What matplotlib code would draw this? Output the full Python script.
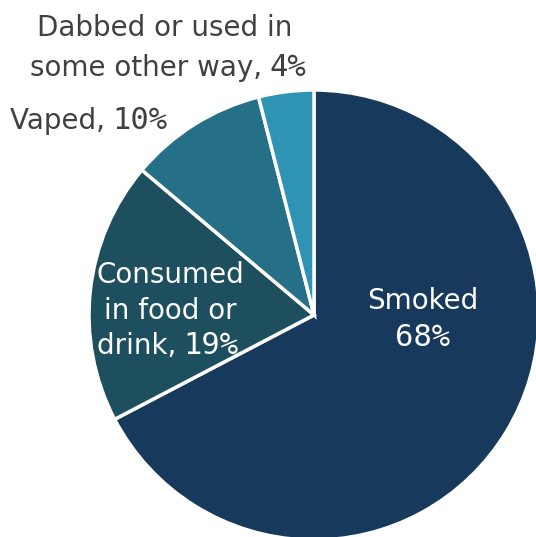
import matplotlib
matplotlib.use("Agg")
import matplotlib.pyplot as plt

categories = ["Smoked", "Consumed in food or drink", "Vaped", "Dabbed or used in some other way"]
values = [68, 19, 10, 4]
colors = ["#173a5c", "#1d4f5e", "#257087", "#2f94b4"]

W, H = 536, 537
fig = plt.figure(figsize=(W / 100, H / 100), dpi=100)
cx, cy, R = 314, 315, 225
ax = fig.add_axes([(cx - R) / W, (H - cy - R) / H, 2 * R / W, 2 * R / H])
ax.pie(values, colors=colors, startangle=90, counterclock=False,
       wedgeprops=dict(edgecolor="white", linewidth=2.5), radius=1)
ax.set_xlim(-1, 1)
ax.set_ylim(-1, 1)
ax.set_aspect("equal")
ax.axis("off")
for p in ax.patches:
    p.set_clip_on(False)

FONT = ["DejaVu Sans"]
NUM = ["DejaVu Sans Mono"]
FS = 20
NFS = 22
gray = "#404040"

def d(px, py):
    return ((px - cx) / R, (cy - py) / R)

def pair(x, y, text, num, color):
    t = ax.text(x, y, text, fontsize=FS, family=FONT, color=color, ha="left", va="baseline")
    ax.annotate(num, xy=(1, 0), xycoords=t, xytext=(-1, 0), textcoords="offset points",
                fontsize=NFS, family=NUM, color=color,
                ha="left", va="bottom", annotation_clip=False)
    return t

# Dabbed
x, y = d(165, 36)
ax.text(x, y, "Dabbed or used in", fontsize=FS, family=FONT, color=gray, ha="center", va="baseline")
x, y = d(30, 76)
pair(x, y, "some other way, ", f"{values[3]}%", gray)

# Vaped
x, y = d(10, 129)
pair(x, y, "Vaped, ", f"{values[2]}%", gray)

# Consumed
x, y = d(170, 283)
ax.text(x, y, "Consumed", fontsize=FS, family=FONT, color="white", ha="center", va="baseline")
x, y = d(170, 319)
ax.text(x, y, "in food or", fontsize=FS, family=FONT, color="white", ha="center", va="baseline")
x, y = d(97, 354)
pair(x, y, "drink, ", f"{values[1]}%", "white")

# Smoked
x, y = d(423, 309)
ax.text(x, y, categories[0], fontsize=FS, family=FONT, color="white", ha="center", va="baseline")
x, y = d(423, 346)
ax.text(x, y, f"{values[0]}%", fontsize=NFS, family=NUM, color="white", ha="center", va="baseline")

fig.savefig("out.png", dpi=100)
